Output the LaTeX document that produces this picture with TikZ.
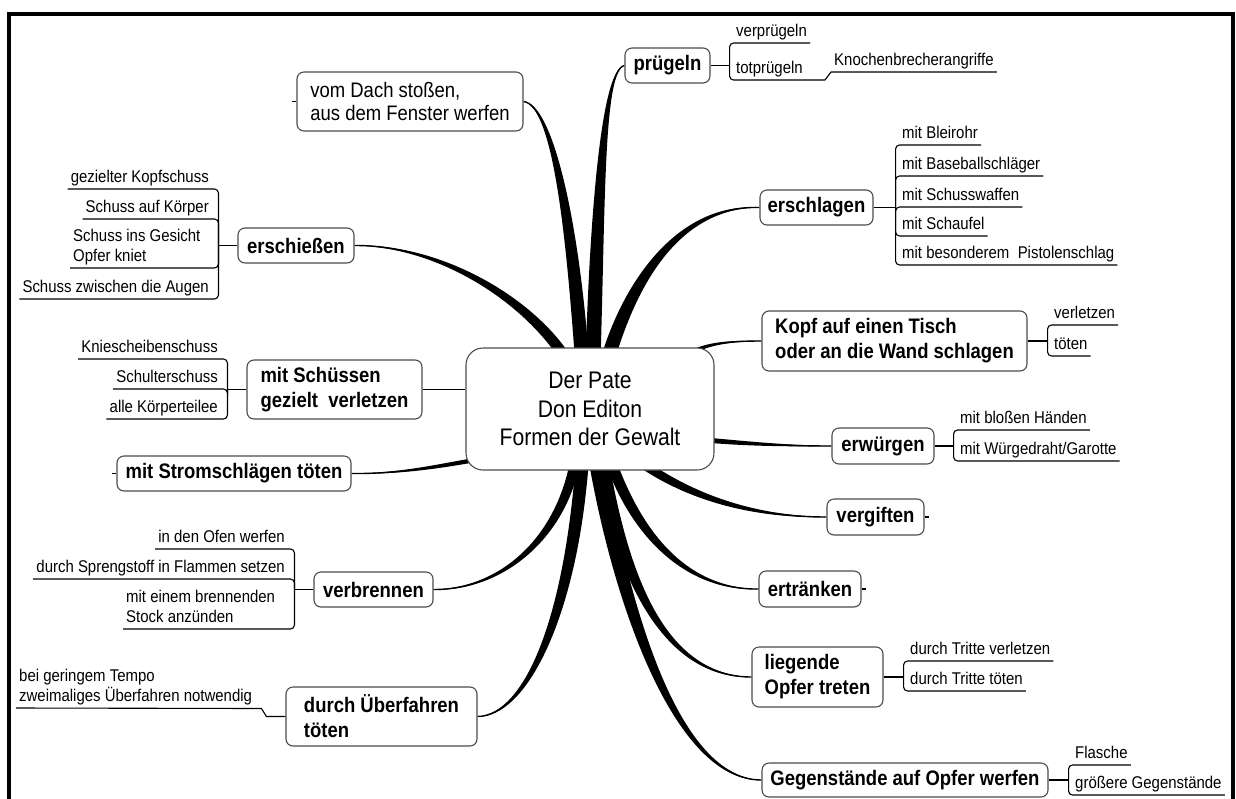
\documentclass[tikz,border=0pt]{standalone}
\usepackage{fontspec}
\setmainfont{Liberation Sans}[FakeStretch=0.88]
\usetikzlibrary{calc,backgrounds}
\newcommand\leaffont{\fontsize{17}{20.5}\selectfont}
\newcommand\topicfont{\bfseries\fontsize{21}{25}\selectfont}
\newcommand\dachfont{\fontsize{21}{23.5}\selectfont}
\newcommand\corefont{\fontsize{24}{28.5}\selectfont}
\newcommand\branchto[6]{%
  \fill[black] ($#1!#5!90:#2$) .. controls ($#2!#5!-90:#1$) and ($#3!#6!90:#4$) .. #4
     .. controls ($#3!#6!-90:#4$) and ($#2!#5!90:#1$) .. ($#1!#5!-90:#2$) -- cycle;
  \draw[black,line width=1.4pt] #1 .. controls #2 and #3 .. #4;}
\begin{document}
\begin{tikzpicture}[x=1pt,y=-1pt,
  topic/.style={draw=black!70, line width=1.1pt, rounded corners=7pt, fill=white, font=\topicfont, inner sep=0pt, align=left},
  core/.style={draw=black!70, line width=1.1pt, rounded corners=17pt, fill=white, font=\corefont, align=center, minimum width=248pt, minimum height=122pt},
  leaf/.style={font=\leaffont, inner xsep=3pt, inner ysep=0pt, align=left},
  leafline/.style={line width=1.1pt, rounded corners=4pt},
  twig/.style={line width=1.2pt}]
\useasboundingbox (0,0) rectangle (1236,798);

% topic nodes
\node[core] (c) at (590,409) {Der Pate\\Don Editon\\Formen der Gewalt};
\node[topic, font=\dachfont, minimum width=226pt, minimum height=59pt] (dach) at (410,101.5) {vom Dach stoßen,\\aus dem Fenster werfen};
\node[topic, minimum width=85pt, minimum height=35pt] (pruegeln) at (667.5,65.5) {prügeln};
\node[topic, minimum width=113pt, minimum height=35pt] (erschlagen) at (816.5,207.5) {erschlagen};
\node[topic, minimum width=116pt, minimum height=35pt] (erschiessen) at (296,245.5) {erschießen};
\node[topic, minimum width=175pt, minimum height=59pt] (schuessen) at (334.5,389.5) {mit Schüssen\\gezielt\ \ verletzen};
\node[topic, minimum width=234pt, minimum height=35pt] (strom) at (234,473.5) {mit Stromschlägen töten};
\node[topic, minimum width=119pt, minimum height=35pt] (verbrennen) at (373.5,589.5) {verbrennen};
\node[topic, minimum width=191pt, minimum height=59pt] (ueberfahren) at (381.5,716.5) {durch Überfahren\\töten};
\node[topic, minimum width=265pt, minimum height=60pt] (kopf) at (894.5,341) {Kopf auf einen Tisch\\oder an die Wand schlagen};
\node[topic, minimum width=102pt, minimum height=36pt] (erwuergen) at (883,446) {erwürgen};
\node[topic, minimum width=97pt, minimum height=36pt] (vergiften) at (875.5,517) {vergiften};
\node[topic, minimum width=102pt, minimum height=36pt] (ertraenken) at (810,589) {ertränken};
\node[topic, minimum width=131pt, minimum height=60pt] (liegende) at (817.5,677) {liegende\\Opfer treten};
\node[topic, minimum width=286pt, minimum height=34pt] (gegen) at (905,780) {Gegenstände auf Opfer werfen};

% tapered branches
\begin{scope}[on background layer]
\branchto{(582,360)}{(572,220)}{(552,105)}{(dach.east)}{7pt}{2.5pt}
\branchto{(593,360)}{(598,200)}{(603,70)}{(pruegeln.west)}{7.5pt}{2.5pt}
\branchto{(606,365)}{(630,280)}{(680,205)}{(erschlagen.west)}{7pt}{3pt}
\branchto{(568,362)}{(530,300)}{(440,245)}{(erschiessen.east)}{5.5pt}{2pt}
\branchto{(685,356)}{(705,343)}{(730,341)}{(kopf.west)}{2pt}{0.8pt}
\branchto{(475,460)}{(440,466)}{(400,474)}{(strom.east)}{2.2pt}{0.8pt}
\branchto{(705,440)}{(740,443)}{(780,446)}{(erwuergen.west)}{2.5pt}{1pt}
\branchto{(640,462)}{(680,490)}{(740,517)}{(vergiften.west)}{4.5pt}{1.8pt}
\branchto{(612,465)}{(640,540)}{(690,590)}{(ertraenken.west)}{5.5pt}{2pt}
\branchto{(603,465)}{(625,590)}{(670,677)}{(liegende.west)}{6.5pt}{2.5pt}
\branchto{(597,465)}{(625,620)}{(680,780)}{(gegen.west)}{7.5pt}{2.8pt}
\branchto{(582,465)}{(570,620)}{(525,716)}{(ueberfahren.east)}{6.5pt}{2.5pt}
\branchto{(575,462)}{(560,540)}{(500,590)}{(verbrennen.east)}{5pt}{2pt}
\draw[line width=1.5pt] (schuessen.east) -- (schuessen.east -| c.west);
\end{scope}

% stubs
\draw[twig] (dach.west) -- ++(-4,0);
\draw[twig] (strom.west) -- ++(-4,0);
\draw[twig] (vergiften.east) -- ++(4,0);
\draw[twig] (ertraenken.east) -- ++(4,0);

% bracket connectors
\draw[twig] (pruegeln.east) -- ++(19,0) coordinate (pb);
\draw[twig] (erschlagen.east) -- ++(22,0) coordinate (eb);
\draw[twig] (kopf.east) -- ++(20,0) coordinate (kb);
\draw[twig] (erwuergen.east) -- ++(19,0) coordinate (wb);
\draw[twig] (liegende.east) -- ++(20,0) coordinate (lb);
\draw[twig] (gegen.east) -- ++(20,0) coordinate (gb);
\draw[twig] (erschiessen.west) -- ++(-19,0) coordinate (sb);
\draw[twig] (schuessen.west) -- ++(-19,0) coordinate (mb);
\draw[twig] (verbrennen.west) -- ++(-19,0) coordinate (vb);

% right leaves
\node[leaf, anchor=south west] (p1) at (733,43) {verprügeln\strut};
\node[leaf, anchor=south west] (p2) at (733,80) {totprügeln\strut};
\node[leaf, anchor=south west] (p3) at (831,72) {Knochenbrecherangriffe\strut};
\draw[leafline] (pb) |- (p1.south east);
\draw[leafline] (pb) |- (p2.south east);
\draw[line width=1.1pt] (p2.south east) -- ++(19,0) -- (p3.south west) -- (p3.south east);

\node[leaf, anchor=south west] (e1) at (899,145) {mit Bleirohr\strut};
\node[leaf, anchor=south west] (e2) at (899,176) {mit Baseballschläger\strut};
\node[leaf, anchor=south west] (e3) at (899,207) {mit Schusswaffen\strut};
\node[leaf, anchor=south west] (e4) at (899,236) {mit Schaufel\strut};
\node[leaf, anchor=south west] (e5) at (899,265) {mit besonderem\ \ Pistolenschlag\strut};
\foreach \n in {e1,e2,e3,e4,e5} \draw[leafline] (eb) |- (\n.south east);

\node[leaf, anchor=south west] (k1) at (1051,325) {verletzen\strut};
\node[leaf, anchor=south west] (k2) at (1051,356) {töten\strut};
\foreach \n in {k1,k2} \draw[leafline] (kb) |- (\n.south east);

\node[leaf, anchor=south west] (w1) at (957,430) {mit bloßen Händen\strut};
\node[leaf, anchor=south west] (w2) at (957,461) {mit Würgedraht/Garotte\strut};
\foreach \n in {w1,w2} \draw[leafline] (wb) |- (\n.south east);

\node[leaf, anchor=south west] (l1) at (907,661) {durch Tritte verletzen\strut};
\node[leaf, anchor=south west] (l2) at (907,691) {durch Tritte töten\strut};
\foreach \n in {l1,l2} \draw[leafline] (lb) |- (\n.south east);

\node[leaf, anchor=south west] (g1) at (1072,765) {Flasche\strut};
\node[leaf, anchor=south west] (g2) at (1072,795) {größere Gegenstände\strut};
\foreach \n in {g1,g2} \draw[leafline] (gb) |- (\n.south east);

% left leaves
\node[leaf, anchor=south east] (s1) at (212,189) {gezielter Kopfschuss\strut};
\node[leaf, anchor=south east] (s2) at (212,219) {Schuss auf Körper\strut};
\node[leaf, anchor=south west] (s3) at (70,268) {Schuss ins Gesicht\\Opfer kniet\strut};
\node[leaf, anchor=south east] (s4) at (212,299) {Schuss zwischen die Augen\strut};
\foreach \n in {s1,s2,s3,s4} \draw[leafline] (sb) |- (\n.south west);

\node[leaf, anchor=south east] (m1) at (221,359) {Kniescheibenschuss\strut};
\node[leaf, anchor=south east] (m2) at (221,389) {Schulterschuss\strut};
\node[leaf, anchor=south east] (m3) at (221,419) {alle Körperteilee\strut};
\foreach \n in {m1,m2,m3} \draw[leafline] (mb) |- (\n.south west);

\node[leaf, anchor=south east] (v1) at (288,549) {in den Ofen werfen\strut};
\node[leaf, anchor=south east] (v2) at (288,579) {durch Sprengstoff in Flammen setzen\strut};
\node[leaf, anchor=south west] (v3) at (123,629) {mit einem brennenden\\Stock anzünden\strut};
\foreach \n in {v1,v2,v3} \draw[leafline] (vb) |- (\n.south west);

\node[leaf, anchor=south west] (u1) at (16,708) {bei geringem Tempo\\zweimaliges Überfahren notwendig\strut};
\draw[line width=1.1pt] (ueberfahren.west) -- ++(-19,0) -- ++(-5,-8) -- (u1.south west);

% frame
\draw[line width=4pt] (9,800) -- (9,14) -- (1233,14) -- (1233,800);
\end{tikzpicture}
\end{document}
